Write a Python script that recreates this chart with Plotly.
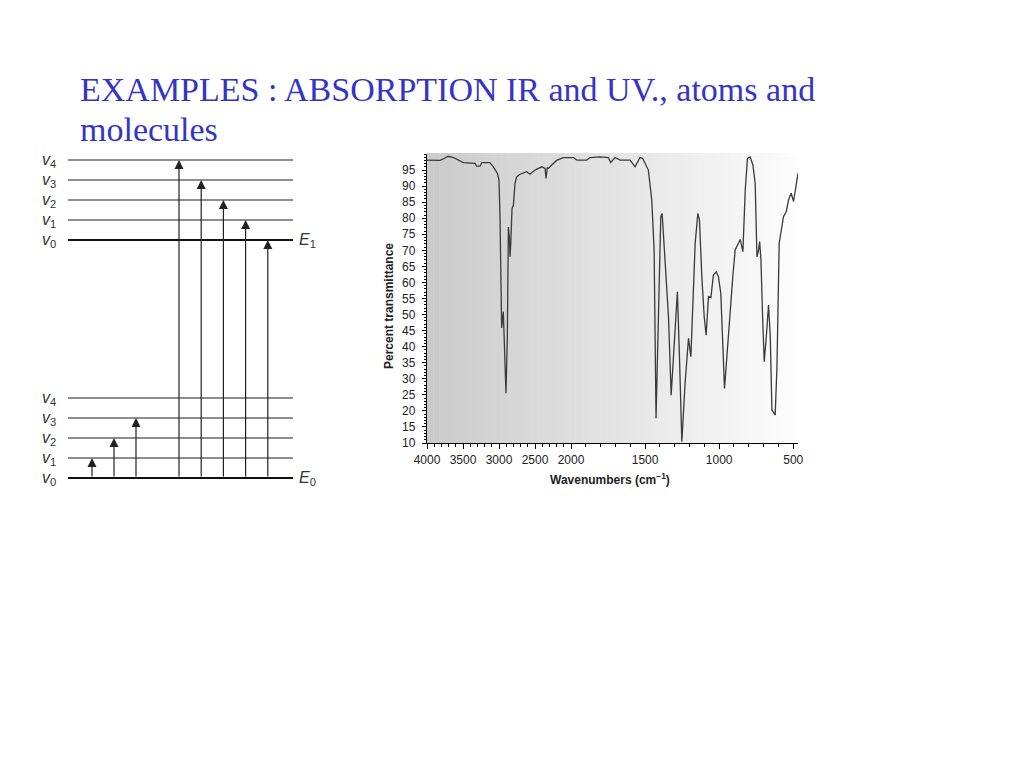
import plotly.graph_objects as go

# ---------------- data ----------------
title_lines = ["EXAMPLES : ABSORPTION IR and UV., atoms and", "molecules"]

# IR spectrum (wavenumber cm^-1, percent transmittance)
wavenumbers = [4000, 3900, 3820, 3760, 3708, 3634, 3560, 3495, 3333, 3310, 3264, 3240,
               3125, 3079, 3023, 3000, 2986, 2977, 2963, 2940, 2926, 2903, 2884, 2870,
               2856, 2847, 2837, 2819, 2800, 2778, 2754, 2708, 2616, 2569, 2500, 2454,
               2407, 2360, 2347, 2330, 2315, 2292, 2245, 2200, 2106, 1984, 1961, 1894,
               1872, 1804, 1748, 1732, 1703, 1669, 1601, 1568, 1534, 1516, 1478, 1455,
               1439, 1426, 1410, 1394, 1385, 1369, 1358, 1342, 1324, 1309, 1282, 1268,
               1252, 1230, 1207, 1191, 1178, 1162, 1144, 1133, 1117, 1101, 1088, 1072,
               1056, 1039, 1020, 1005, 989, 975, 964, 948, 930, 908, 892, 858, 840, 824,
               809, 791, 772, 757, 745, 734, 727, 718, 707, 696, 682, 667, 655, 644, 622,
               610, 595, 577, 566, 547, 532, 514, 498, 468]
transmittance = [98.1, 98.0, 98.0, 98.6, 99.3, 98.9, 98.0, 97.3, 97.1, 96.2, 96.2, 97.3,
                 97.3, 96.0, 94.0, 91.9, 80.5, 59.8, 45.8, 50.9, 43.0, 25.5, 43.0, 77.3,
                 74.2, 68.0, 72.0, 83.0, 84.0, 90.8, 92.9, 93.7, 94.5, 93.7, 95.0, 95.5,
                 96.0, 95.5, 92.4, 95.8, 95.5, 96.0, 97.0, 98.0, 98.9, 98.9, 98.1, 98.1,
                 98.9, 99.1, 98.9, 97.3, 98.9, 98.1, 98.1, 96.0, 98.9, 98.6, 95.0, 85.7,
                 70.1, 17.7, 49.3, 80.5, 81.5, 68.0, 62.8, 49.3, 24.9, 36.9, 57.1, 36.9,
                 10.4, 28.6, 42.6, 36.9, 51.4, 72.2, 81.5, 79.4, 61.8, 49.3, 43.6, 55.6,
                 55.3, 62.3, 63.3, 61.8, 56.6, 39.0, 27.0, 36.9, 49.3, 61.8, 70.1, 73.4,
                 69.6, 88.8, 98.6, 99.1, 96.5, 90.8, 68.0, 70.1, 72.7, 67.0, 49.3, 35.3,
                 43.0, 53.0, 43.0, 20.3, 18.7, 33.8, 72.2, 77.3, 80.5, 82.1, 85.7, 87.8,
                 85.2, 94.0]

ir_y_ticks = [10, 15, 20, 25, 30, 35, 40, 45, 50, 55, 60, 65, 70, 75, 80, 85, 90, 95]
ir_x_ticks_high = [4000, 3500, 3000, 2500, 2000]
ir_x_ticks_low = [1500, 1000, 500]

# Energy level diagram
vib_levels = [0, 1, 2, 3, 4]          # vibrational quantum numbers
electronic_gap = 11.9                 # E1 - E0 in level units
vib_transitions = [1, 2, 3]           # within E0, from v0
electronic_transitions = [4, 3, 2, 1, 0]  # from E0 v0 to E1 v

# ---------------- figure ----------------
W, H = 1024, 768
OFF = 8  # page body margin


def px_x(p):
    return (p - OFF) / W


def px_y(p):
    return 1 - (p - OFF) / H


fig = go.Figure()

line_col = "#3a3a3a"
# IR spectrum drawn on both x segments (split wavenumber scale)
for xa in ["x", "x2"]:
    fig.add_trace(go.Scatter(x=wavenumbers, y=transmittance, mode="lines",
                             line=dict(color=line_col, width=1.3),
                             xaxis=xa, yaxis="y" if xa == "x" else "y2",
                             showlegend=False, hoverinfo="skip"))

# Energy levels
x_left, x_right = 28, 253
lab_font = dict(family="Liberation Sans, Arial", size=16, color="#333333")
for base, elabel in [(0, "<i>E</i><sub>0</sub>"), (electronic_gap, "<i>E</i><sub>1</sub>")]:
    for v in vib_levels:
        lev = base + v
        fig.add_trace(go.Scatter(x=[x_left, x_right], y=[lev, lev], mode="lines",
                                 line=dict(color="#111111" if v == 0 else "#6a6a6a",
                                           width=2.2 if v == 0 else 1.3),
                                 xaxis="x3", yaxis="y3", showlegend=False,
                                 hoverinfo="skip"))
        fig.add_annotation(x=9, y=lev, xref="x3", yref="y3",
                           text="<i>v</i><sub>%d</sub>" % v, showarrow=False,
                           font=lab_font)
    fig.add_annotation(x=267, y=base, xref="x3", yref="y3", text=elabel,
                       showarrow=False, xanchor="center", font=lab_font)

arrow_style = dict(showarrow=True, arrowhead=2, arrowsize=1.5, arrowwidth=1.2,
                   arrowcolor="#222222", text="", xref="x3", yref="y3",
                   axref="x3", ayref="y3", standoff=0)
for i, v in enumerate(vib_transitions):
    xp = 52 + 22 * i
    fig.add_annotation(x=xp, y=v, ax=xp, ay=0, **arrow_style)
for i, v in enumerate(electronic_transitions):
    xp = 139 + 22.2 * i
    fig.add_annotation(x=xp, y=electronic_gap + v, ax=xp, ay=0, **arrow_style)

# Gradient background of spectrum plot area
gx0, gx1, gy0, gy1 = 427, 798, 153, 443
n = 60
for i in range(n):
    c = int(203 + (253 - 203) * i / (n - 1))
    fig.add_shape(type="rect", xref="paper", yref="paper",
                  x0=px_x(gx0 + (gx1 - gx0) * i / n), x1=px_x(gx0 + (gx1 - gx0) * (i + 1) / n + 0.5),
                  y0=px_y(gy1), y1=px_y(gy0), line=dict(width=0),
                  fillcolor="rgb(%d,%d,%d)" % (c, c, c), layer="below")

tick_font = dict(family="Liberation Sans, Arial", size=12, color="#222222")
split = 571
fig.update_layout(
    width=W, height=H, margin=dict(l=0, r=0, t=0, b=0, pad=0, autoexpand=False),
    paper_bgcolor="white", plot_bgcolor="rgba(0,0,0,0)", showlegend=False,
    xaxis=dict(domain=[px_x(427), px_x(split)], range=[4000, 2000], showgrid=False,
               zeroline=False, showline=True, linecolor="black", linewidth=1.3,
               tickmode="array", tickvals=ir_x_ticks_high, ticks="outside", ticklen=5,
               tickcolor="black", tickfont=tick_font, automargin=False,
               minor=dict(tickmode="linear", tick0=0, dtick=100, ticks="outside",
                          ticklen=3, tickcolor="black", showgrid=False),
               anchor="y"),
    xaxis2=dict(domain=[px_x(split), px_x(798)], range=[2000, 468], showgrid=False,
                zeroline=False, showline=True, linecolor="black", linewidth=1.3,
                tickmode="array", tickvals=ir_x_ticks_low, ticks="outside", ticklen=5,
                tickcolor="black", tickfont=tick_font, automargin=False,
                minor=dict(tickmode="linear", tick0=0, dtick=100, ticks="outside",
                           ticklen=3, tickcolor="black", showgrid=False),
                anchor="y2"),
    yaxis=dict(domain=[px_y(443), px_y(154)], range=[10, 100], showgrid=False,
               zeroline=False, showline=True, linecolor="black", linewidth=1.3,
               tickmode="array", tickvals=ir_y_ticks, ticks="outside", ticklen=4,
               tickcolor="black", tickfont=tick_font, automargin=False,
               ticklabelstandoff=4,
               minor=dict(tickmode="linear", tick0=0, dtick=1, ticks="outside",
                          ticklen=2, tickcolor="black", showgrid=False),
               anchor="x"),
    yaxis2=dict(domain=[px_y(443), px_y(154)], range=[10, 100], visible=False,
                anchor="x2", automargin=False),
    xaxis3=dict(domain=[px_x(40), px_x(320)], range=[0, 280], visible=False,
                anchor="y3", automargin=False),
    yaxis3=dict(domain=[px_y(490), px_y(150)], range=[-0.6, 16.4], visible=False,
                anchor="x3", automargin=False),
)

# Axis titles for the spectrum
ax_title_font = dict(family="Liberation Sans, Arial", size=12, color="#222222")
fig.add_annotation(x=px_x(610), y=px_y(479), xref="paper", yref="paper",
                   text="<b>Wavenumbers (cm<sup>\u22121</sup>)</b>", showarrow=False,
                   font=ax_title_font)
fig.add_annotation(x=px_x(389), y=px_y(306), xref="paper", yref="paper",
                   text="<b>Percent transmittance</b>", showarrow=False, textangle=-90,
                   font=ax_title_font)

# Title (two lines)
title_font = dict(family="Liberation Serif, Times New Roman", size=34, color="#3434c8")
for line, yc in zip(title_lines, [89.5, 129.5]):
    fig.add_annotation(x=px_x(78), y=px_y(yc), xref="paper", yref="paper",
                       xanchor="left", yanchor="middle", align="left", text=line,
                       showarrow=False, font=title_font)

fig.write_html("out.html")
